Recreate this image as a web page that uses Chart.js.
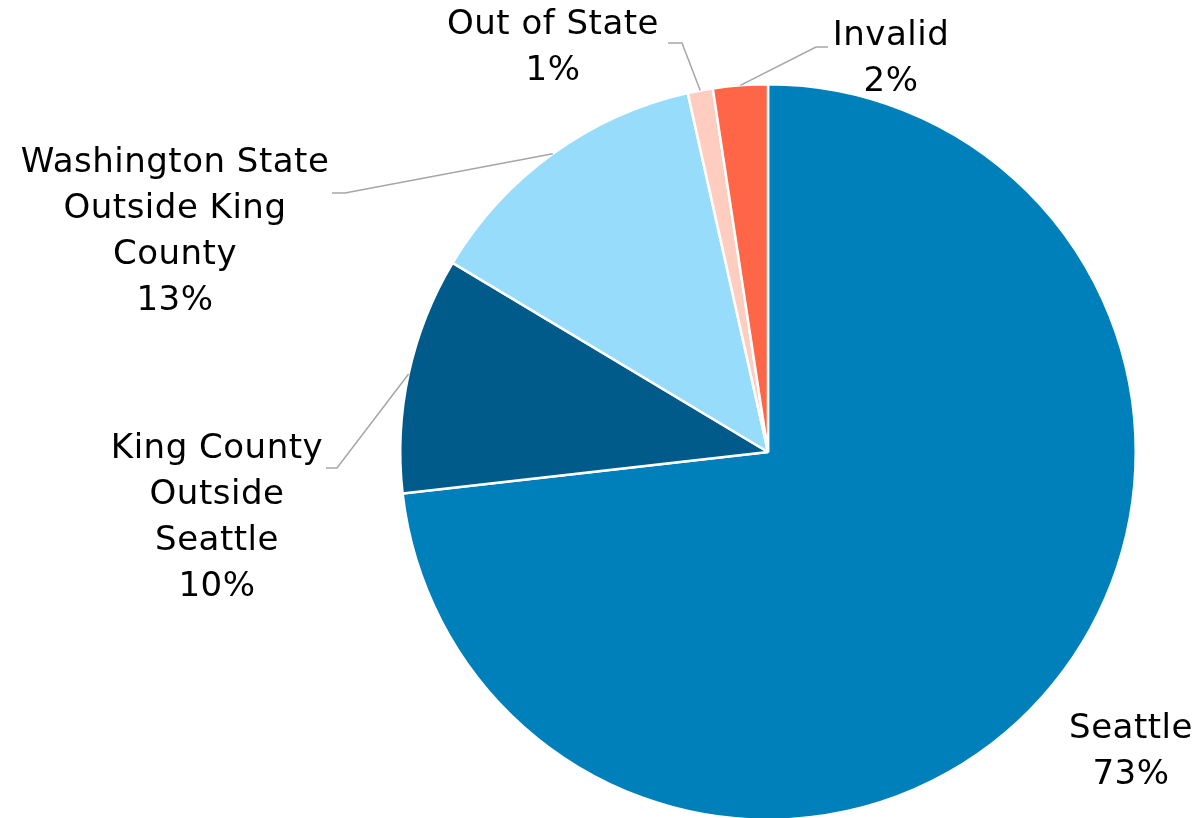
<!DOCTYPE html>
<html>
<head>
<meta charset="utf-8">
<script src="https://cdn.jsdelivr.net/npm/chart.js@4.4.1/dist/chart.umd.min.js"></script>
<style>
  html, body { margin: 0; padding: 0; background: #fff; overflow: hidden; }
  #wrap { width: 1199px; height: 822px; position: relative; }
</style>
</head>
<body>
<div id="wrap"><canvas id="c" width="1199" height="822"></canvas></div>
<script>
// ---- data ----
const categories = ["Seattle", "King County Outside Seattle", "Washington State Outside King County", "Out of State", "Invalid"];
const shares = [73.2, 10.4, 12.9, 1.1, 2.4];
const percentLabels = ["73%", "10%", "13%", "1%", "2%"];
const labelLines = [
  ["Seattle"],
  ["King County", "Outside", "Seattle"],
  ["Washington State", "Outside King", "County"],
  ["Out of State"],
  ["Invalid"]
];
const colors = ["#0080BA", "#005B8A", "#97DDFB", "#FFCCC0", "#FF6647"];

// ---- label layout (annotation placement) ----
const labelLayout = [
  { cx: 1131, y: 729, elbow: null },
  { cx: 217, y: 449, elbow: [[326, 468], [337, 468]] },
  { cx: 175, y: 163, elbow: [[332, 193], [345, 193]] },
  { cx: 553, y: 25, elbow: [[668, 43], [682, 43]] },
  { cx: 891, y: 36, elbow: [[828, 47], [816, 47]] }
];
const FONT = '400 34px "DejaVu Sans", "Noto Sans", sans-serif';
const LINE_H = 46;

const labelPlugin = {
  id: 'pieLabels',
  afterDatasetsDraw(chart) {
    const ctx = chart.ctx;
    const meta = chart.getDatasetMeta(0);
    ctx.save();
    meta.data.forEach((arc, i) => {
      const L = labelLayout[i];
      const p = arc.getProps(['x', 'y', 'startAngle', 'endAngle', 'outerRadius'], true);
      const mid = (p.startAngle + p.endAngle) / 2;
      const ax = p.x + Math.cos(mid) * p.outerRadius;
      const ay = p.y + Math.sin(mid) * p.outerRadius;
      if (L.elbow) {
        ctx.beginPath();
        ctx.strokeStyle = '#A6A6A6';
        ctx.lineWidth = 1.5;
        ctx.moveTo(L.elbow[0][0], L.elbow[0][1]);
        ctx.lineTo(L.elbow[1][0], L.elbow[1][1]);
        ctx.lineTo(ax, ay);
        ctx.stroke();
      }
      const lines = labelLines[i].concat([percentLabels[i]]);
      ctx.fillStyle = '#000000';
      ctx.font = FONT;
      if ('letterSpacing' in ctx) ctx.letterSpacing = '0.5px';
      ctx.textAlign = 'center';
      ctx.textBaseline = 'middle';
      lines.forEach((t, k) => ctx.fillText(t, L.cx, L.y + k * LINE_H));
    });
    ctx.restore();
  }
};

new Chart(document.getElementById('c'), {
  type: 'pie',
  data: {
    labels: categories,
    datasets: [{
      data: shares,
      backgroundColor: colors,
      borderColor: '#FFFFFF',
      borderWidth: 2.5,
      hoverOffset: 0
    }]
  },
  options: {
    responsive: false,
    animation: false,
    rotation: 0,
    layout: { padding: { top: 83, bottom: 1, left: 399, right: 62 } },
    plugins: {
      legend: { display: false },
      tooltip: { enabled: false }
    }
  },
  plugins: [labelPlugin]
});
</script>
</body>
</html>
